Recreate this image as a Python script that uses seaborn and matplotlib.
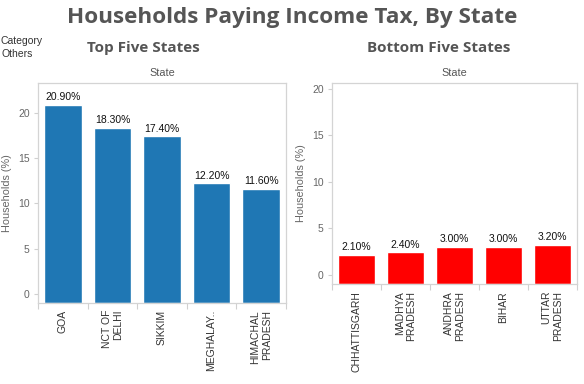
import numpy as np
import pandas as pd
import matplotlib as mpl
import matplotlib.pyplot as plt
import seaborn as sns

# data
top_states = ["GOA", "NCT OF\nDELHI", "SIKKIM", "MEGHALAY..", "HIMACHAL\nPRADESH"]
top_values = [20.9, 18.3, 17.4, 12.2, 11.6]
bottom_states = ["CHHATTISGARH", "MADHYA\nPRADESH", "ANDHRA\nPRADESH", "BIHAR", "UTTAR\nPRADESH"]
bottom_values = [2.1, 2.4, 3.0, 3.0, 3.2]
y_ticks = [0, 5, 10, 15, 20]

sns.set_theme(style="white")
mpl.rcParams["font.family"] = ["Liberation Sans", "DejaVu Sans"]

W, H = 584, 384
fig = plt.figure(figsize=(W / 100, H / 100), dpi=100)


def px_axes(x0, y_top, w, h):
    return fig.add_axes([x0 / W, (H - y_top - h) / H, w / W, h / H])


def draw_panel(ax, states, values, color, ylim):
    df = pd.DataFrame({"state": states, "value": values})
    sns.barplot(data=df, x="state", y="value", color=color, saturation=1,
                width=0.76, ax=ax)
    ax.set_ylim(*ylim)
    ax.set_xlim(-0.5, len(states) - 0.5)
    # tableau style: bars run down to the axis floor
    for p in ax.patches:
        top = p.get_y() + p.get_height()
        p.set_y(ylim[0])
        p.set_height(top - ylim[0])
    ax.bar_label(ax.containers[0], labels=[f"{v:.2f}%" for v in values],
                 padding=2, fontsize=7.5, color="#111111")

    ax.set_yticks(y_ticks)
    ax.tick_params(axis="y", labelsize=7.5, labelcolor="#666666", length=3,
                   color="#d0d0d0", width=0.8, pad=3, left=True)
    ax.set_xticks(range(len(states)))
    ax.set_xticklabels(states, rotation=90, va="top", ha="center",
                       multialignment="right", fontsize=7.5, color="#333333")
    ax.tick_params(axis="x", which="major", length=0, pad=5)
    ax.set_xticks(np.arange(-0.5, len(states), 1.0), minor=True)
    ax.tick_params(axis="x", which="minor", length=4, color="#d0d0d0",
                   width=0.8, bottom=True)
    for s in ax.spines.values():
        s.set_color("#d4d4d4")
        s.set_linewidth(0.9)
    ax.set_xlabel("State", fontsize=7.8, color="#555555", labelpad=5)
    ax.xaxis.set_label_position("top")
    ax.set_ylabel("Households (%)", fontsize=7.8, color="#666666", labelpad=4)


ax1 = px_axes(38, 83, 248, 220)
draw_panel(ax1, top_states, top_values, "#1f77b4", (-1.0, 23.3))

ax2 = px_axes(332, 83, 245, 201)
draw_panel(ax2, bottom_states, bottom_values, "#ff0000", (-1.0, 20.6))

fig.text(292 / W, 1 - 17 / H, "Households Paying Income Tax, By State",
         ha="center", va="center", fontsize=16.2, fontweight="bold",
         color="#555555", family=["Open Sans", "DejaVu Sans"])
fig.text(143 / W, 1 - 48 / H, "Top Five States", ha="center", va="center",
         fontsize=11, fontweight="bold", color="#555555",
         family=["Open Sans", "DejaVu Sans"])
fig.text(439 / W, 1 - 48 / H, "Bottom Five States", ha="center", va="center",
         fontsize=11, fontweight="bold", color="#555555",
         family=["Open Sans", "DejaVu Sans"])
fig.text(0.5 / W, 1 - 41 / H, "Category", ha="left", va="center",
         fontsize=7.5, color="#333333")
fig.text(2 / W, 1 - 54 / H, "Others", ha="left", va="center",
         fontsize=7.5, color="#333333")

fig.savefig("out.png", dpi=100)
